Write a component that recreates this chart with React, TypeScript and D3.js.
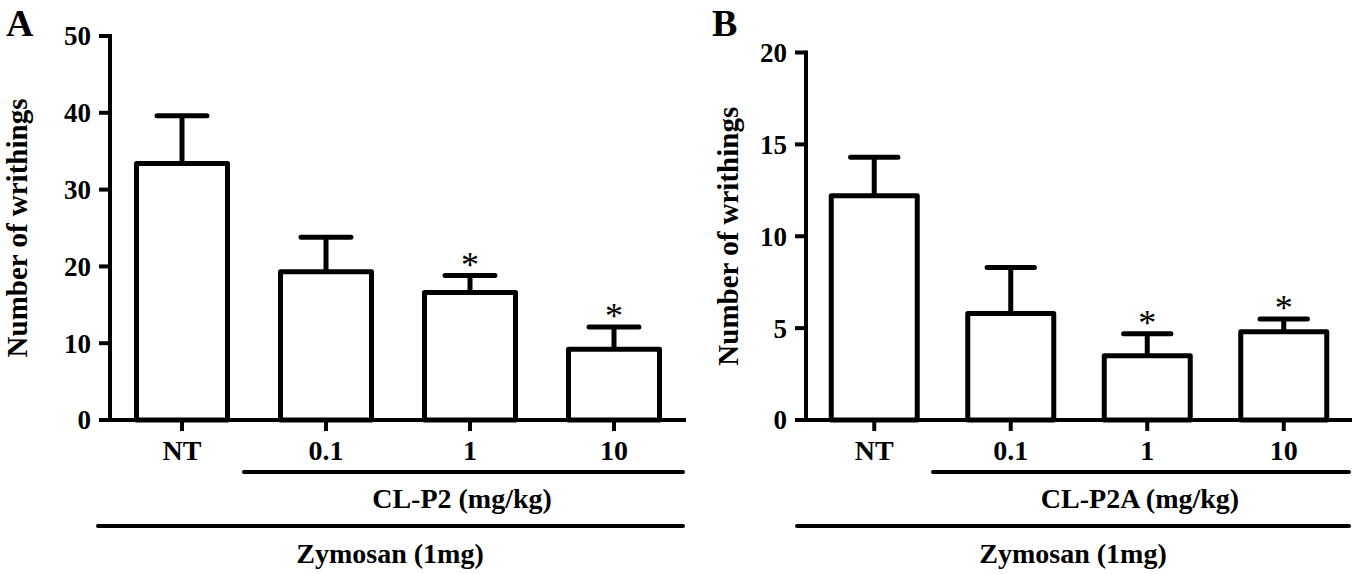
import React from "react";
import * as d3 from "d3";

const categories = ["NT", "0.1", "1", "10"];
const meanA = [33.4, 19.3, 16.6, 9.2];
const semA = [6.2, 4.5, 2.2, 2.9];
const sigA = [false, false, true, true];
const ticksA = [0, 10, 20, 30, 40, 50];

const meanB = [12.2, 5.8, 3.5, 4.8];
const semB = [2.1, 2.5, 1.2, 0.7];
const sigB = [false, false, true, true];
const ticksB = [0, 5, 10, 15, 20];

const FONT = "'Liberation Serif', 'Times New Roman', serif";

type PanelProps = {
  letter: string;
  means: number[];
  sems: number[];
  sig: boolean[];
  ticks: number[];
  yMax: number;
  axisX: number;
  xEnd: number;
  yTop: number;
  subLabel: string;
  subStart: number;
  subCenter: number;
  zymStart: number;
  zymCenter: number;
  letterX: number;
  titleX: number;
};

function Panel(p: PanelProps) {
  const base = 420;
  const y = d3.scaleLinear().domain([0, p.yMax]).range([base, p.yTop]);
  const x = d3
    .scaleBand<string>()
    .domain(categories)
    .range([p.axisX, p.xEnd])
    .paddingInner(1 / 3)
    .paddingOuter(1 / 6);
  const bw = x.bandwidth();
  const sw = 5;
  return (
    <g>
      <text x={p.letterX} y={36} fontFamily={FONT} fontWeight="bold" fontSize={38}>
        {p.letter}
      </text>
      <text
        transform={`translate(${p.titleX},${(base + p.yTop) / 2}) rotate(-90)`}
        textAnchor="middle"
        fontFamily={FONT}
        fontWeight="bold"
        fontSize={29}
      >
        Number of writhings
      </text>
      {/* y axis */}
      <line x1={p.axisX} x2={p.axisX} y1={y(p.yMax) - 2} y2={base} stroke="#000" strokeWidth={4} />
      {p.ticks.map((t) => (
        <g key={t}>
          <line x1={p.axisX - 11} x2={p.axisX} y1={y(t)} y2={y(t)} stroke="#000" strokeWidth={4} />
          <text
            x={p.axisX - 19}
            y={y(t)}
            dy="0.35em"
            textAnchor="end"
            fontFamily={FONT}
            fontWeight="bold"
            fontSize={27}
          >
            {t}
          </text>
        </g>
      ))}
      {/* bars */}
      {categories.map((c, i) => {
        const cx = (x(c) as number) + bw / 2;
        const top = y(p.means[i]);
        const errTop = y(p.means[i] + p.sems[i]);
        return (
          <g key={c}>
            <line x1={cx} x2={cx} y1={top} y2={errTop} stroke="#000" strokeWidth={sw} />
            <line
              x1={cx - bw * 0.26}
              x2={cx + bw * 0.26}
              y1={errTop}
              y2={errTop}
              stroke="#000"
              strokeWidth={sw}
              strokeLinecap="round"
            />
            <rect
              x={(x(c) as number) + sw / 2}
              y={top}
              width={bw - sw}
              height={base - top}
              fill="#fff"
              stroke="#000"
              strokeWidth={sw}
              strokeLinejoin="round"
            />
            {p.sig[i] && (
              <text
                x={cx}
                y={errTop + 1}
                textAnchor="middle"
                fontFamily={FONT}
                fontSize={36}
              >
                *
              </text>
            )}
            <line x1={cx} x2={cx} y1={base} y2={base + 11} stroke="#000" strokeWidth={4} />
            <text
              x={cx}
              y={460}
              textAnchor="middle"
              fontFamily={FONT}
              fontWeight="bold"
              fontSize={28}
            >
              {c}
            </text>
          </g>
        );
      })}
      {/* x axis */}
      <line x1={p.axisX - 11} x2={p.xEnd} y1={base} y2={base} stroke="#000" strokeWidth={4} />
      {/* group lines */}
      <line x1={p.subStart} x2={p.xEnd - 3} y1={472} y2={472} stroke="#000" strokeWidth={4} strokeLinecap="round" />
      <text x={p.subCenter} y={508} textAnchor="middle" fontFamily={FONT} fontWeight="bold" fontSize={28}>
        {p.subLabel}
      </text>
      <line x1={p.zymStart} x2={p.xEnd - 3} y1={526} y2={526} stroke="#000" strokeWidth={4} strokeLinecap="round" />
      <text x={p.zymCenter} y={563} textAnchor="middle" fontFamily={FONT} fontWeight="bold" fontSize={28}>
        Zymosan (1mg)
      </text>
    </g>
  );
}

export default function App() {
  return (
    <svg
      width={1353}
      height={574}
      style={{ position: "absolute", left: 0, top: 0, background: "#fff" }}
    >
      <rect x={0} y={0} width={1353} height={574} fill="#fff" />
      <Panel
        letter="A"
        means={meanA}
        sems={semA}
        sig={sigA}
        ticks={ticksA}
        yMax={50}
        axisX={110}
        xEnd={686}
        yTop={36}
        subLabel="CL-P2 (mg/kg)"
        subStart={244}
        subCenter={462}
        zymStart={98}
        zymCenter={390}
        letterX={6}
        titleX={27}
      />
      <Panel
        letter="B"
        means={meanB}
        sems={semB}
        sig={sigB}
        ticks={ticksB}
        yMax={20}
        axisX={806}
        xEnd={1352}
        yTop={52.5}
        subLabel="CL-P2A (mg/kg)"
        subStart={933}
        subCenter={1140}
        zymStart={797}
        zymCenter={1073}
        letterX={712}
        titleX={738}
      />
    </svg>
  );
}
